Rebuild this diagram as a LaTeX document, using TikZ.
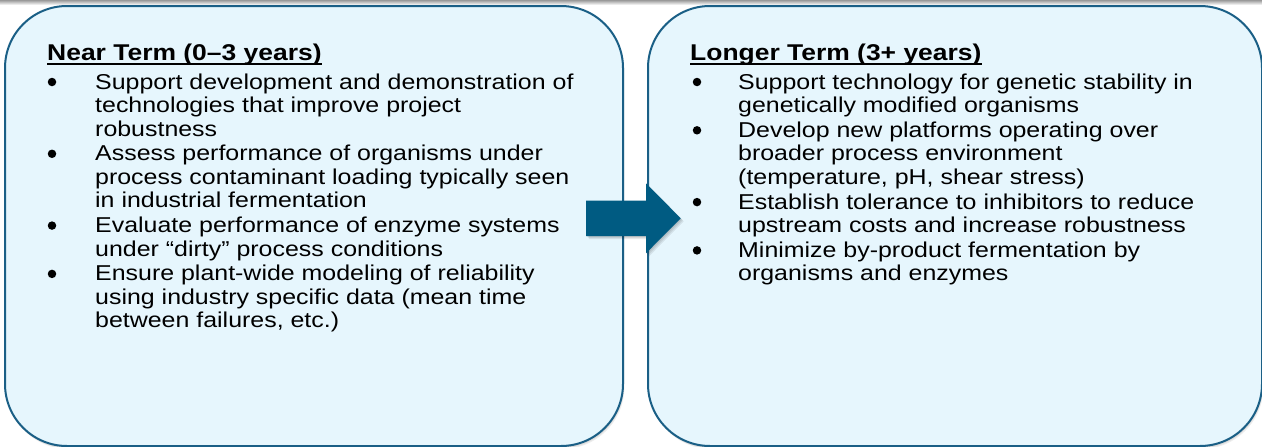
\documentclass[tikz,border=0pt]{standalone}
\usepackage{fontspec}
\setmainfont[FakeStretch=1.16]{Liberation Sans}
\definecolor{boxborder}{HTML}{1A5F86}
\definecolor{boxfill}{HTML}{E6F6FD}
\definecolor{arrowblue}{HTML}{005B82}
\tikzset{
  termbox/.style={draw=boxborder, line width=2pt, fill=boxfill, rounded corners=62pt,
    inner sep=0pt, anchor=north west, minimum height=440pt},
  body/.style={anchor=base west, inner sep=0pt, font=\fontsize{21.5}{23.5}\selectfont},
  head/.style={anchor=base west, inner sep=0pt, font=\fontsize{22.8}{26}\selectfont\bfseries},
  dot/.style={circle, fill=black, inner sep=0pt, minimum size=8.5pt},
  uline/.style={line width=2.2pt, black},
}
\begin{document}
\begin{tikzpicture}[x=1pt, y=-1pt]
\useasboundingbox (0,0) rectangle (1262,447);
% top shadow band
\shade[top color=black!40, bottom color=white] (0,0) rectangle (1262,5);
% box shadows
\foreach \d in {1,2,3,4}{
  \fill[black, opacity=0.07, rounded corners=62pt] (4+\d*0.6,5+\d) rectangle (622+\d*0.6,445+\d);
  \fill[black, opacity=0.07, rounded corners=62pt] (647+\d*0.6,5+\d) rectangle (1261+\d*0.6,445+\d);
}
% boxes
\node[termbox, minimum width=618pt] (near) at (4,5) {};
\node[termbox, minimum width=614pt] (longer) at (647,5) {};
% arrow shadow
\foreach \d in {1,2,3}{
  \fill[black, opacity=0.08] (586+\d,200.7+\d) -- (646+\d,200.7+\d) -- (646+\d,183.3+\d) -- (680.7+\d,218.3+\d)
     -- (646+\d,253.3+\d) -- (646+\d,236+\d) -- (586+\d,236+\d) -- cycle;
}
% arrow
\fill[arrowblue] (586,200.7) -- (646,200.7) -- (646,183.3) -- (680.7,218.3)
     -- (646,253.3) -- (646,236) -- (586,236) -- cycle;

% Left heading and items
\node[head] (hn) at (47,60) {Near Term (0–3 years)};
\draw[uline] ([yshift=-4pt]hn.base west) -- ([yshift=-4pt]hn.base east);

\node[dot] (bl1) at (52,82) {};
\node[body] (l1) at (95,89) {\parbox[t]{520pt}{Support development and demonstration of\\technologies that improve project\\robustness}};
\node[dot] (bl2) at (52,153.8) {};
\node[body] (l2) at (95,160.8) {\parbox[t]{520pt}{Assess performance of organisms under\\process contaminant loading typically seen\\in industrial fermentation}};
\node[dot] (bl3) at (52,225.6) {};
\node[body] (l3) at (95,232.6) {\parbox[t]{520pt}{Evaluate performance of enzyme systems\\under “dirty” process conditions}};
\node[dot] (bl4) at (52,273.9) {};
\node[body] (l4) at (95,280.9) {\parbox[t]{520pt}{Ensure plant-wide modeling of reliability\\using industry specific data (mean time\\between failures, etc.)}};

% Right heading and items
\node[head] (hl) at (690,60) {Longer Term (3+ years)};
\draw[uline] ([yshift=-4pt]hl.base west) -- ([yshift=-4pt]hl.base east);

\node[dot] (br1) at (697,82) {};
\node[body] (r1) at (738,89) {\parbox[t]{510pt}{Support technology for genetic stability in\\genetically modified organisms}};
\node[dot] (br2) at (697,130.3) {};
\node[body] (r2) at (738,137.3) {\parbox[t]{510pt}{Develop new platforms operating over\\broader process environment\\(temperature, pH, shear stress)}};
\node[dot] (br3) at (697,202.1) {};
\node[body] (r3) at (738,209.1) {\parbox[t]{510pt}{Establish tolerance to inhibitors to reduce\\upstream costs and increase robustness}};
\node[dot] (br4) at (697,250.4) {};
\node[body] (r4) at (738,257.4) {\parbox[t]{510pt}{Minimize by-product fermentation by\\organisms and enzymes}};
\end{tikzpicture}
\end{document}
